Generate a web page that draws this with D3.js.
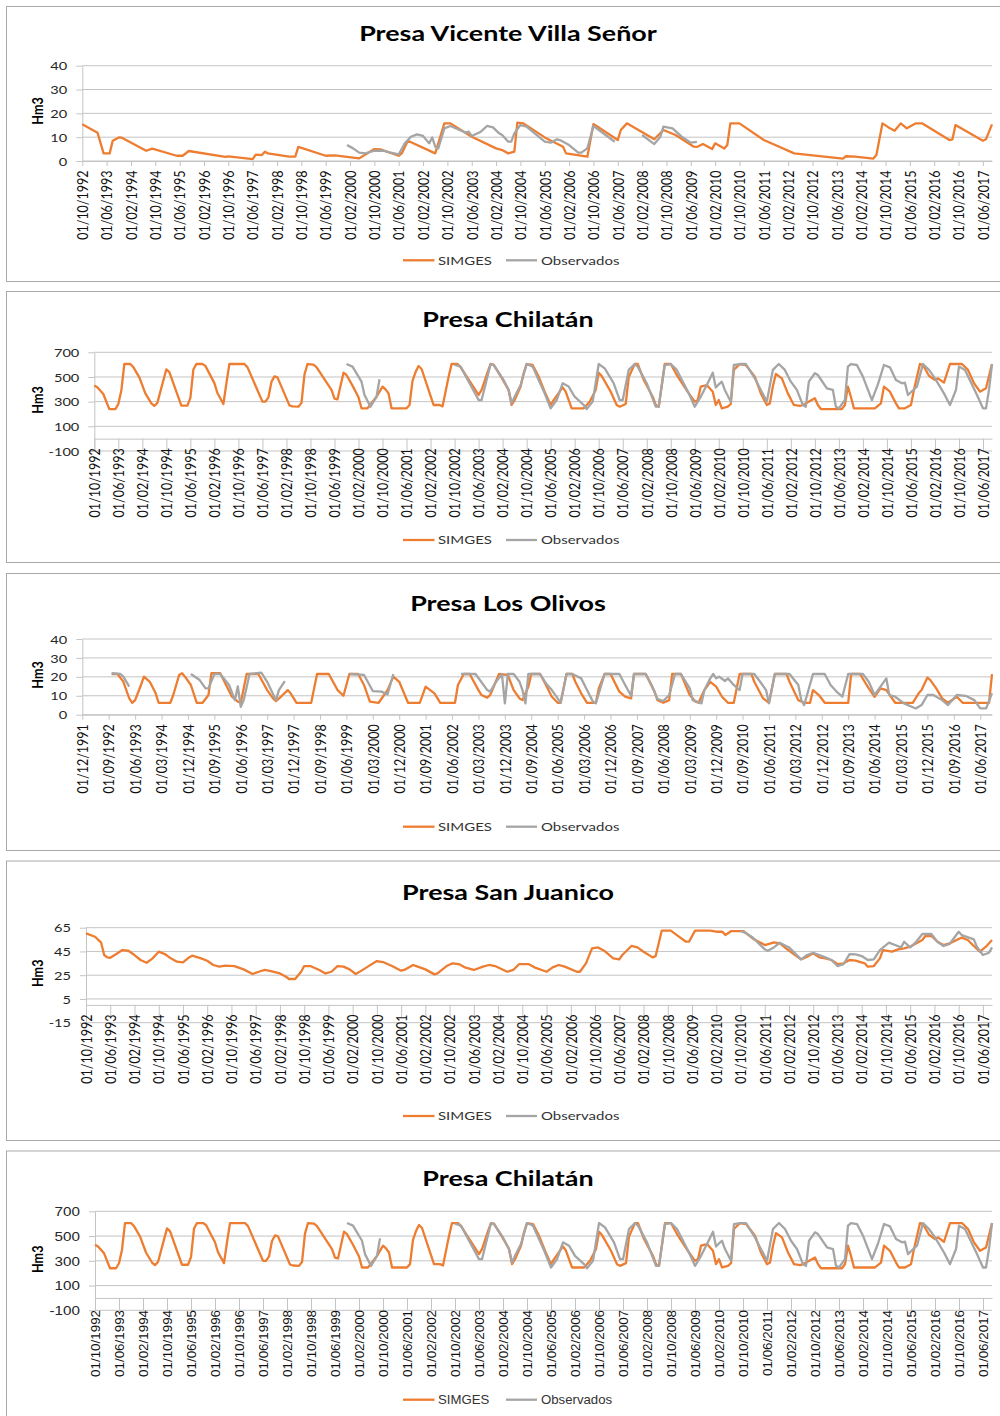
<!DOCTYPE html>
<html>
<head>
<meta charset="utf-8">
<script src="https://cdn.jsdelivr.net/npm/d3@7"></script>
<style>
  body { margin: 0; background: #fff; }
</style>
</head>
<body>
<svg id="chart" width="1000" height="1416"></svg>
<script>
// ---- tick labels (category axis, every 8 / every 9 months)
const ticksOct92 = ["01/10/1992","01/06/1993","01/02/1994","01/10/1994","01/06/1995","01/02/1996","01/10/1996",
  "01/06/1997","01/02/1998","01/10/1998","01/06/1999","01/02/2000","01/10/2000","01/06/2001","01/02/2002",
  "01/10/2002","01/06/2003","01/02/2004","01/10/2004","01/06/2005","01/02/2006","01/10/2006","01/06/2007",
  "01/02/2008","01/10/2008","01/06/2009","01/02/2010","01/10/2010","01/06/2011","01/02/2012","01/10/2012",
  "01/06/2013","01/02/2014","01/10/2014","01/06/2015","01/02/2016","01/10/2016","01/06/2017"];
const ticksDec91 = ["01/12/1991","01/09/1992","01/06/1993","01/03/1994","01/12/1994","01/09/1995","01/06/1996",
  "01/03/1997","01/12/1997","01/09/1998","01/06/1999","01/03/2000","01/12/2000","01/09/2001","01/06/2002",
  "01/03/2003","01/12/2003","01/09/2004","01/06/2005","01/03/2006","01/12/2006","01/09/2007","01/06/2008",
  "01/03/2009","01/12/2009","01/09/2010","01/06/2011","01/03/2012","01/12/2012","01/09/2013","01/06/2014",
  "01/03/2015","01/12/2015","01/09/2016","01/06/2017"];

const yTicksVvs = [0, 10, 20, 30, 40];
const yTicksChil = [-100, 100, 300, 500, 700];
const yTicksOliv = [0, 10, 20, 30, 40];
const yTicksSanJ = [-15, 5, 25, 45, 65];

// ---- series (month, Hm3) read at the turning points of each curve
const vvsSimges = [
  ["1992-10",15.4],["1993-03",11.9],["1993-05",3.2],["1993-07",3.2],["1993-08",8.5],["1993-10",9.9],["1993-11",9.8],
  ["1994-07",4.3],["1994-09",5.2],["1995-05",2.2],["1995-07",2.2],["1995-09",4.2],["1996-09",1.7],["1996-10",1.9],
  ["1997-06",0.8],["1997-07",2.7],["1997-09",2.5],["1997-10",3.9],["1997-11",3.2],["1998-06",1.8],["1998-08",1.8],
  ["1998-09",5.9],["1999-06",2.2],["1999-09",2.4],["2000-05",1.1],["2000-08",3.5],["2000-10",5.0],["2000-12",4.9],
  ["2001-06",2.2],["2001-07",3.2],["2001-09",8.5],["2002-06",3.2],["2002-09",15.8],["2002-11",15.8],["2003-06",10.2],
  ["2004-02",5.3],["2004-04",4.6],["2004-06",3.2],["2004-08",3.9],["2004-09",16.1],["2004-11",15.8],["2005-06",9.9],
  ["2005-12",6.0],["2006-01",3.2],["2006-08",1.8],["2006-10",15.5],["2006-11",14.7],["2007-06",8.8],["2007-07",13.0],
  ["2007-09",15.8],["2008-06",9.1],["2008-09",13.0],["2009-01",10.9],["2009-07",6.0],["2009-08",5.9],["2009-10",7.1],
  ["2010-01",5.0],["2010-02",7.4],["2010-05",5.2],["2010-06",6.7],["2010-07",15.8],["2010-10",15.8],["2011-06",8.8],
  ["2012-04",3.2],["2012-10",2.4],["2013-08",1.0],["2013-09",2.0],["2013-12",1.8],["2014-06",1.0],["2014-07",2.5],
  ["2014-09",15.8],["2014-11",14.1],["2015-01",12.7],["2015-03",15.8],["2015-05",13.7],["2015-08",15.8],["2015-10",15.8],
  ["2016-07",8.8],["2016-08",9.1],["2016-09",15.1],["2017-06",8.5],["2017-07",9.1],["2017-09",15.4]
];
const vvsObs = [
  ["2000-01",6.7],["2000-03",5.3],["2000-05",3.5],["2000-07",3.2],["2000-10",4.3],["2001-01",4.3],["2001-03",3.6],
  ["2001-06",2.8],["2001-08",7.4],["2001-10",10.2],["2001-12",11.2],["2002-02",10.5],["2002-04",7.4],["2002-05",9.9],
  ["2002-06",6.0],["2002-07",5.3],["2002-09",13.7],["2002-11",14.7],["2003-04",11.9],["2003-05",12.3],["2003-06",10.5],
  ["2003-09",12.3],["2003-11",14.7],["2004-01",14.1],["2004-03",11.6],["2004-04",10.9],["2004-06",8.1],["2004-07",8.1],
  ["2004-08",11.6],["2004-10",15.1],["2004-12",14.4],["2005-06",8.1],["2005-08",7.7],["2005-10",9.1],["2005-11",8.8],
  ["2006-02",6.7],["2006-05",3.5],["2006-06",3.5],["2006-08",5.3],["2006-10",14.7],["2007-05",8.1],["2007-06",null],
  ["2008-02",10.9],["2008-06",7.1],["2008-08",10.2],["2008-09",14.4],["2008-12",13.7],["2009-03",10.2],["2009-06",7.7],
  ["2009-08",8.0]
];

const chilSimges = [
  ["1992-10",430],["1992-11",416],["1993-01",362],["1993-03",240],["1993-05",240],["1993-06",280],["1993-07",390],
  ["1993-08",605],["1993-10",605],["1993-11",580],["1994-01",497],["1994-03",367],["1994-05",286],["1994-06",265],
  ["1994-07",290],["1994-10",562],["1994-11",540],["1995-03",268],["1995-05",268],["1995-06",330],["1995-07",560],
  ["1995-08",605],["1995-10",605],["1995-11",590],["1996-02",450],["1996-03",370],["1996-05",281],["1996-06",450],
  ["1996-07",605],["1996-12",605],["1997-01",580],["1997-06",300],["1997-07",300],["1997-08",335],["1997-09",460],
  ["1997-10",505],["1997-11",497],["1998-03",270],["1998-04",262],["1998-06",259],["1998-07",290],["1998-08",520],
  ["1998-09",605],["1998-11",600],["1998-12",580],["1999-05",395],["1999-06",325],["1999-07",319],["1999-09",535],
  ["1999-10",516],["1999-12",430],["2000-02",335],["2000-03",246],["2000-05",246],["2000-08",340],["2000-10",422],
  ["2000-11",400],["2000-12",367],["2001-01",246],["2001-06",246],["2001-07",273],["2001-08",470],["2001-09",540],
  ["2001-10",589],["2001-11",565],["2002-03",273],["2002-05",273],["2002-06",262],["2002-08",500],["2002-09",605],
  ["2002-11",605],["2002-12",580],["2003-06",354],["2003-07",395],["2003-09",540],["2003-10",605],["2003-11",600],
  ["2004-02",480],["2004-04",395],["2004-05",273],["2004-06",313],["2004-08",422],["2004-09",530],["2004-10",605],
  ["2004-12",597],["2005-02",503],["2005-04",381],["2005-06",273],["2005-07",313],["2005-10",416],["2005-11",381],
  ["2006-01",246],["2006-05",246],["2006-07",300],["2006-09",395],["2006-10",535],["2006-11",508],["2007-02",381],
  ["2007-04",273],["2007-05",259],["2007-07",281],["2007-08",497],["2007-10",605],["2007-11",605],["2008-01",476],
  ["2008-04",340],["2008-05",273],["2008-06",259],["2008-08",605],["2008-10",605],["2008-12",516],["2009-04",367],
  ["2009-06",300],["2009-07",313],["2009-08",422],["2009-10",435],["2009-12",381],["2010-01",273],["2010-02",313],
  ["2010-03",246],["2010-05",259],["2010-06",281],["2010-07",557],["2010-09",605],["2010-11",597],["2011-02",503],
  ["2011-04",367],["2011-06",273],["2011-07",286],["2011-08",422],["2011-09",524],["2011-11",489],["2012-01",367],
  ["2012-03",273],["2012-05",265],["2012-06",273],["2012-10",327],["2012-11",273],["2012-12",240],["2013-07",240],
  ["2013-08",273],["2013-09",422],["2013-10",340],["2013-11",246],["2014-06",246],["2014-08",286],["2014-09",422],
  ["2014-11",381],["2015-01",286],["2015-02",246],["2015-04",246],["2015-06",273],["2015-07",395],["2015-09",605],
  ["2015-10",597],["2015-12",510],["2016-02",476],["2016-03",489],["2016-05",454],["2016-07",605],["2016-11",605],
  ["2017-01",557],["2017-03",449],["2017-05",381],["2017-07",408],["2017-09",605]
];
const chilObs = [
  ["1999-10",605],["1999-12",584],["2000-03",462],["2000-04",354],["2000-06",259],["2000-08",340],["2000-09",481],
  ["2000-10",null],
  ["2002-10",600],["2002-12",584],["2003-06",313],["2003-07",313],["2003-10",605],["2003-11",597],["2004-02",489],
  ["2004-04",395],["2004-05",286],["2004-06",340],["2004-08",435],["2004-10",605],["2004-12",584],["2005-02",476],
  ["2005-04",367],["2005-06",246],["2005-08",313],["2005-10",449],["2005-12",422],["2006-02",340],["2006-05",273],
  ["2006-06",240],["2006-08",300],["2006-10",605],["2006-12",570],["2007-03",449],["2007-05",313],["2007-06",313],
  ["2007-08",557],["2007-10",605],["2007-11",584],["2008-02",449],["2008-05",259],["2008-06",259],["2008-08",597],
  ["2008-10",605],["2008-12",557],["2009-04",367],["2009-06",259],["2009-08",340],["2009-10",435],["2009-12",535],
  ["2010-01",415],["2010-02",440],["2010-03",462],["2010-04",395],["2010-06",300],["2010-07",597],["2010-09",605],
  ["2010-11",605],["2011-02",489],["2011-06",300],["2011-08",557],["2011-10",605],["2011-12",557],["2012-02",462],
  ["2012-04",395],["2012-06",273],["2012-07",259],["2012-08",462],["2012-10",530],["2012-11",516],["2013-02",408],
  ["2013-04",395],["2013-05",259],["2013-06",246],["2013-08",313],["2013-09",584],["2013-10",605],["2013-12",597],
  ["2014-02",503],["2014-05",313],["2014-07",440],["2014-09",597],["2014-11",578],["2015-01",476],["2015-03",449],
  ["2015-04",454],["2015-05",354],["2015-08",422],["2015-10",605],["2015-12",557],["2016-02",489],["2016-05",367],
  ["2016-07",273],["2016-09",395],["2016-10",584],["2016-12",557],["2017-04",354],["2017-06",246],["2017-07",246],
  ["2017-08",395],["2017-09",605]
];

const olivSimges = [
  ["1992-10",21.5],["1992-12",21.5],["1993-02",17.4],["1993-04",8.6],["1993-05",6.3],["1993-06",7.7],["1993-08",15.7],
  ["1993-09",20.1],["1993-11",17.4],["1994-01",11.3],["1994-02",6.3],["1994-06",6.3],["1994-07",10.4],["1994-09",21.0],
  ["1994-10",21.9],["1994-11",20.1],["1995-01",15.7],["1995-03",6.3],["1995-05",6.3],["1995-07",10.4],["1995-08",21.9],
  ["1995-11",21.9],["1996-01",15.7],["1996-03",9.5],["1996-05",6.9],["1996-06",6.3],["1996-08",21.5],["1996-12",21.5],
  ["1997-03",13.0],["1997-05",8.6],["1997-06",7.2],["1997-08",10.0],["1997-10",13.0],["1997-11",11.3],["1998-01",6.3],
  ["1998-06",6.3],["1998-08",21.5],["1998-12",21.5],["1999-03",13.0],["1999-05",10.0],["1999-07",21.5],["1999-10",21.5],
  ["1999-12",15.7],["2000-02",6.9],["2000-05",6.3],["2000-08",13.0],["2000-10",20.1],["2000-12",17.4],["2001-03",6.3],
  ["2001-07",6.3],["2001-09",14.8],["2001-12",11.3],["2002-02",6.3],["2002-07",6.3],["2002-08",15.7],["2002-10",21.5],
  ["2002-12",21.5],["2003-03",13.0],["2003-04",10.4],["2003-06",9.0],["2003-07",10.4],["2003-10",21.5],["2004-01",21.0],
  ["2004-03",13.0],["2004-05",8.6],["2004-06",7.7],["2004-08",14.8],["2004-09",21.5],["2004-12",21.5],["2005-02",15.7],
  ["2005-04",9.5],["2005-06",6.3],["2005-07",6.3],["2005-09",21.5],["2005-11",21.5],["2005-12",17.4],["2006-02",11.3],
  ["2006-04",6.3],["2006-07",6.3],["2006-08",13.9],["2006-10",21.5],["2006-12",21.5],["2007-03",12.2],["2007-05",9.5],
  ["2007-07",8.6],["2007-08",21.5],["2007-12",21.5],["2008-03",12.2],["2008-04",7.7],["2008-06",6.3],["2008-08",7.7],
  ["2008-09",21.5],["2008-12",21.5],["2009-03",10.4],["2009-05",6.9],["2009-06",6.3],["2009-08",13.0],["2009-10",17.4],
  ["2009-12",14.8],["2010-02",9.5],["2010-04",6.3],["2010-06",6.3],["2010-08",21.5],["2010-12",21.5],["2011-01",17.4],
  ["2011-04",8.6],["2011-06",6.3],["2011-08",21.5],["2011-12",21.5],["2012-01",17.4],["2012-04",7.7],["2012-06",6.3],
  ["2012-08",6.3],["2012-09",13.0],["2012-11",10.4],["2013-01",6.3],["2013-09",6.3],["2013-10",21.5],["2014-01",21.5],
  ["2014-04",13.9],["2014-06",9.5],["2014-08",13.9],["2014-10",13.0],["2015-01",6.3],["2015-07",6.3],["2015-09",11.3],
  ["2015-10",13.0],["2015-12",19.6],["2016-01",18.3],["2016-03",13.9],["2016-05",8.6],["2016-07",6.3],["2016-10",9.5],
  ["2016-12",6.3],["2017-09",6.3],["2017-10",21.5]
];
const olivObs = [
  ["1992-10",21.9],["1993-01",21.5],["1993-02",20.1],["1993-04",14.8],["1993-05",null],
  ["1995-01",21.5],["1995-04",18.3],["1995-06",13.9],["1995-07",13.9],["1995-09",21.5],["1995-11",21.5],["1996-02",15.7],
  ["1996-04",7.7],["1996-05",15.0],["1996-06",4.2],["1996-07",7.7],["1996-09",21.5],["1997-01",22.2],["1997-03",17.4],
  ["1997-06",7.7],["1997-07",13.0],["1997-09",17.8],["1997-10",null],
  ["1999-07",21.5],["1999-12",21.0],["2000-03",12.5],["2000-06",12.2],["2000-08",10.7],["2000-10",21.5],["2000-11",null],
  ["2002-09",21.5],["2003-02",21.5],["2003-06",13.0],["2003-07",12.2],["2003-09",17.4],["2003-11",21.5],["2003-12",6.0],
  ["2004-01",21.5],["2004-03",21.5],["2004-05",17.4],["2004-06",13.0],["2004-07",6.0],["2004-08",21.5],["2004-12",21.5],
  ["2005-02",16.6],["2005-04",13.0],["2005-06",8.6],["2005-07",6.3],["2005-09",21.5],["2005-11",21.5],["2006-02",19.2],
  ["2006-04",13.0],["2006-06",6.9],["2006-07",6.0],["2006-10",21.5],["2007-03",21.5],["2007-05",15.7],["2007-07",10.0],
  ["2007-08",21.5],["2007-12",21.5],["2008-02",15.7],["2008-04",8.3],["2008-06",7.2],["2008-08",10.4],["2008-10",21.5],
  ["2008-12",21.5],["2009-03",13.9],["2009-04",7.7],["2009-07",6.0],["2009-08",13.0],["2009-10",19.2],["2009-11",21.5],
  ["2009-12",19.2],["2010-01",20.1],["2010-03",17.8],["2010-04",19.2],["2010-06",15.7],["2010-08",13.0],["2010-09",21.5],
  ["2011-01",21.5],["2011-03",17.4],["2011-05",13.0],["2011-06",6.0],["2011-08",21.5],["2012-01",21.5],["2012-04",15.7],
  ["2012-05",7.7],["2012-06",5.1],["2012-09",21.5],["2013-01",21.5],["2013-03",15.7],["2013-05",12.2],["2013-07",9.5],
  ["2013-09",21.5],["2014-02",21.5],["2014-04",17.4],["2014-06",10.4],["2014-08",14.8],["2014-10",19.2],["2014-11",10.4],
  ["2015-01",9.5],["2015-04",6.0],["2015-08",3.3],["2015-10",5.1],["2015-12",10.4],["2016-02",10.4],["2016-05",7.7],
  ["2016-07",5.1],["2016-10",10.4],["2017-01",10.0],["2017-04",7.7],["2017-06",3.3],["2017-08",3.3],["2017-10",11.3]
];

const sanjSimges = [
  ["1992-10",60.2],["1993-01",57.4],["1993-03",52.4],["1993-04",42.0],["1993-05",40.0],["1993-06",39.7],["1993-08",42.8],
  ["1993-10",46.2],["1993-12",45.6],["1994-02",42.0],["1994-04",37.8],["1994-06",35.5],["1994-08",39.2],["1994-10",44.8],
  ["1994-12",42.8],["1995-02",39.2],["1995-04",36.4],["1995-06",35.8],["1995-08",40.0],["1995-09",41.4],["1995-12",39.2],
  ["1996-02",37.2],["1996-04",33.6],["1996-06",32.2],["1996-08",33.0],["1996-11",32.7],["1997-02",29.9],["1997-05",26.0],
  ["1997-07",27.9],["1997-09",29.4],["1997-11",28.5],["1998-02",26.5],["1998-04",23.7],["1998-05",21.8],["1998-07",21.8],
  ["1998-09",27.9],["1998-10",32.7],["1998-12",32.7],["1999-03",29.4],["1999-05",26.5],["1999-07",27.9],["1999-09",32.7],
  ["1999-11",32.2],["2000-01",29.9],["2000-03",26.0],["2000-04",27.4],["2000-07",32.2],["2000-10",36.9],["2000-12",36.1],
  ["2001-03",32.7],["2001-06",28.8],["2001-07",29.4],["2001-10",33.6],["2001-11",32.7],["2002-02",29.9],["2002-05",25.7],
  ["2002-06",26.5],["2002-09",32.7],["2002-11",35.0],["2003-01",34.4],["2003-03",31.6],["2003-06",29.4],["2003-09",32.2],
  ["2003-11",33.6],["2004-01",32.7],["2004-05",27.9],["2004-07",29.4],["2004-09",34.4],["2004-12",34.4],["2005-02",31.6],
  ["2005-06",27.9],["2005-08",31.6],["2005-10",33.6],["2005-12",32.2],["2006-04",27.9],["2006-05",27.9],["2006-07",35.0],
  ["2006-09",47.6],["2006-11",48.4],["2007-01",45.6],["2007-04",39.2],["2007-06",38.3],["2007-07",42.0],["2007-10",49.6],
  ["2007-12",48.4],["2008-02",44.8],["2008-05",40.0],["2008-06",41.1],["2008-08",62.5],["2008-11",62.5],["2009-01",58.8],
  ["2009-04",53.2],["2009-05",53.2],["2009-07",62.5],["2009-12",62.5],["2010-02",61.6],["2010-04",61.6],["2010-05",58.8],
  ["2010-07",62.2],["2010-11",62.2],["2011-02",56.0],["2011-06",50.4],["2011-08",51.8],["2011-09",52.6],["2011-11",51.8],
  ["2012-01",47.6],["2012-04",42.0],["2012-06",38.3],["2012-08",40.6],["2012-10",43.4],["2012-12",40.0],["2013-02",39.2],
  ["2013-04",37.8],["2013-06",34.4],["2013-08",35.0],["2013-10",37.8],["2013-12",37.2],["2014-03",35.0],["2014-04",32.2],
  ["2014-06",32.7],["2014-08",39.2],["2014-09",46.2],["2014-12",44.8],["2015-02",46.8],["2015-04",47.6],["2015-06",49.0],
  ["2015-07",50.4],["2015-10",54.6],["2015-11",58.0],["2016-01",58.0],["2016-03",53.2],["2016-05",50.4],["2016-07",51.8],
  ["2016-10",55.5],["2016-11",56.6],["2017-01",54.6],["2017-03",49.6],["2017-05",44.8],["2017-07",49.0],["2017-09",54.6]
];
const sanjObs = [
  ["2010-10",62.2],["2010-12",60.2],["2011-02",56.8],["2011-06",46.8],["2011-07",45.6],["2011-09",48.4],["2011-11",52.4],
  ["2012-01",49.6],["2012-02",48.4],["2012-04",43.4],["2012-06",38.3],["2012-08",42.0],["2012-10",43.9],["2012-12",42.0],
  ["2013-02",40.0],["2013-04",37.8],["2013-06",32.7],["2013-08",34.4],["2013-10",42.8],["2013-12",42.5],["2014-02",41.1],
  ["2014-04",37.8],["2014-06",38.3],["2014-08",46.2],["2014-11",52.4],["2015-01",50.4],["2015-03",48.4],["2015-04",53.2],
  ["2015-06",48.4],["2015-08",53.2],["2015-10",59.7],["2016-01",59.7],["2016-03",53.2],["2016-05",49.6],["2016-07",51.3],
  ["2016-10",61.6],["2016-11",58.8],["2017-03",55.2],["2017-04",49.0],["2017-06",42.0],["2017-08",43.9],["2017-09",48.4]
];

// ---- styling
const ORANGE = "#ED7D31";
const GRAY = "#A5A5A5";
const GRID = "#c4c4c4";
const K = 1.27;            // the source picture is stretched horizontally
const PLOT_RIGHT = 992;

function ym(s) {
  if (s.includes("/")) { const [, m, y] = s.split("/").map(Number); return y * 12 + m - 1; }
  const [y, m] = s.split("-").map(Number);
  return y * 12 + m - 1;
}

// text styles: Calibri-like panels use Lato, the last one an Arial-like face
const calibriLike = { font: "Lato", ySize: 11.5, yK: K, xSize: 12.5, xK: 1.17, xPad: 9.5, legSize: 11.8, legK: K };
const arialLike = { font: "Liberation Sans", ySize: 12, yK: K, xSize: 13.4, xK: 1.0, xPad: 12, legSize: 12, legK: 1.1 };

const panels = [
  { title: "Presa Vicente Villa Señor", boxTop: 6, boxBottom: 281, left: 82.3, top: 65.7, bottom: 161,
    yDomain: [0, 40], yTicks: yTicksVvs, xStart: "1992-10", xEnd: "2017-09", xTicks: ticksOct92,
    simges: vvsSimges, obs: vvsObs, titleY: 40.7, hmY: 111, legendY: 260.3, txt: calibriLike },
  { title: "Presa Chilatán", boxTop: 291, boxBottom: 562, left: 94.3, top: 352.3, bottom: 451,
    yDomain: [-100, 700], yTicks: yTicksChil, xStart: "1992-10", xEnd: "2017-09", xTicks: ticksOct92,
    simges: chilSimges, obs: chilObs, titleY: 326.7, hmY: 400, legendY: 540, txt: calibriLike },
  { title: "Presa Los Olivos", boxTop: 573, boxBottom: 850, left: 82.3, top: 639, bottom: 714.7,
    yDomain: [0, 40], yTicks: yTicksOliv, xStart: "1991-12", xEnd: "2017-10", xTicks: ticksDec91,
    simges: olivSimges, obs: olivObs, titleY: 611, hmY: 675, legendY: 826.7, txt: calibriLike },
  { title: "Presa San Juanico", boxTop: 860.5, boxBottom: 1140, left: 86, top: 927.7, bottom: 1022.7,
    yDomain: [-15, 65], yTicks: yTicksSanJ, xStart: "1992-10", xEnd: "2017-09", xTicks: ticksOct92,
    simges: sanjSimges, obs: sanjObs, titleY: 900, hmY: 973.3, legendY: 1116, txt: calibriLike },
  { title: "Presa Chilatán", boxTop: 1150.5, boxBottom: 1430, left: 95, top: 1211.3, bottom: 1310.3,
    yDomain: [-100, 700], yTicks: yTicksChil, xStart: "1992-10", xEnd: "2017-09", xTicks: ticksOct92,
    simges: chilSimges, obs: chilObs, titleY: 1186.3, hmY: 1259.3, legendY: 1399.7, txt: arialLike }
];

const svg = d3.select("#chart");

function drawPanel(p) {
  const t = p.txt;
  const g = svg.append("g");
  g.append("rect")
    .attr("x", 6.5).attr("y", p.boxTop + 0.5)
    .attr("width", 1000).attr("height", p.boxBottom - p.boxTop)
    .attr("fill", "#fff").attr("stroke", "#a9a9a9");

  const x = d3.scaleLinear().domain([ym(p.xStart), ym(p.xEnd)]).range([p.left, PLOT_RIGHT]);
  const y = d3.scaleLinear().domain(p.yDomain).range([p.bottom, p.top]);

  // horizontal gridlines
  g.append("g").selectAll("line").data(p.yTicks).join("line")
    .attr("x1", p.left).attr("x2", PLOT_RIGHT)
    .attr("y1", d => y(d)).attr("y2", d => y(d))
    .attr("stroke", GRID).attr("stroke-width", 1);

  // value axis
  const yAxis = g.append("g").attr("transform", `translate(${p.left},0)`)
    .call(d3.axisLeft(y).tickValues(p.yTicks).tickSize(6).tickSizeOuter(0).tickFormat(d => String(d)));
  yAxis.select(".domain").attr("stroke", GRID);
  yAxis.selectAll(".tick line").attr("stroke", GRID);
  yAxis.selectAll(".tick text")
    .attr("x", 0).attr("dy", "0.36em")
    .attr("transform", `translate(-15,0) scale(${t.yK},1)`)
    .attr("font-family", t.font).attr("font-size", t.ySize).attr("fill", "#262626");

  // category axis (crosses at 0); ticks hang down to the lowest gridline
  const axisY = p.yDomain[0] < 0 ? y(0) : p.bottom;
  const tickLen = p.yDomain[0] < 0 ? Math.min(p.bottom - axisY, 12) : 5;
  const xAxis = g.append("g").attr("transform", `translate(0,${axisY})`)
    .call(d3.axisBottom(x).tickValues(p.xTicks.map(ym)).tickSize(tickLen).tickSizeOuter(0)
      .tickFormat((d, i) => p.xTicks[i]));
  xAxis.select(".domain").attr("stroke", GRID);
  xAxis.selectAll(".tick line").attr("stroke", GRID);
  xAxis.selectAll(".tick text")
    .attr("y", 0).attr("dy", "0.36em")
    .attr("text-anchor", "end")
    .attr("transform", `translate(0,${t.xPad}) scale(${t.xK},1) rotate(-90)`)
    .attr("font-family", t.font).attr("font-size", t.xSize).attr("fill", "#111");

  // series
  const line = d3.line()
    .defined(d => d[1] != null)
    .x(d => x(ym(d[0])))
    .y(d => y(d[1]));
  g.append("path").datum(p.simges).attr("d", line)
    .attr("fill", "none").attr("stroke", ORANGE).attr("stroke-width", 2.3).attr("stroke-linejoin", "round");
  g.append("path").datum(p.obs).attr("d", line)
    .attr("fill", "none").attr("stroke", GRAY).attr("stroke-width", 2.3).attr("stroke-linejoin", "round");

  // title
  g.append("text")
    .attr("transform", `translate(508,${p.titleY}) scale(${K},1)`)
    .attr("text-anchor", "middle")
    .attr("font-family", "Lato").attr("font-weight", 700).attr("font-size", 21.2).attr("fill", "#000")
    .text(p.title);

  // axis title
  g.append("text")
    .attr("transform", `translate(37,${p.hmY}) scale(${K},1) rotate(-90)`)
    .attr("text-anchor", "middle").attr("dy", "0.36em")
    .attr("font-family", "Lato").attr("font-weight", 700).attr("font-size", 12.6).attr("fill", "#000")
    .text("Hm3");

  // legend
  const legend = [
    { name: "SIMGES", color: ORANGE, x0: 403, x1: 434.5, tx: 438 },
    { name: "Observados", color: GRAY, x0: 506, x1: 537, tx: 541 }
  ];
  const lg = g.append("g").selectAll("g").data(legend).join("g");
  lg.append("line")
    .attr("x1", d => d.x0).attr("x2", d => d.x1)
    .attr("y1", p.legendY).attr("y2", p.legendY)
    .attr("stroke", d => d.color).attr("stroke-width", 2.3);
  lg.append("text")
    .attr("transform", d => `translate(${d.tx},${p.legendY}) scale(${t.legK},1)`)
    .attr("dy", "0.36em")
    .attr("font-family", t.font).attr("font-size", t.legSize).attr("fill", "#333")
    .text(d => d.name);
}

panels.forEach(drawPanel);
</script>
</body>
</html>
